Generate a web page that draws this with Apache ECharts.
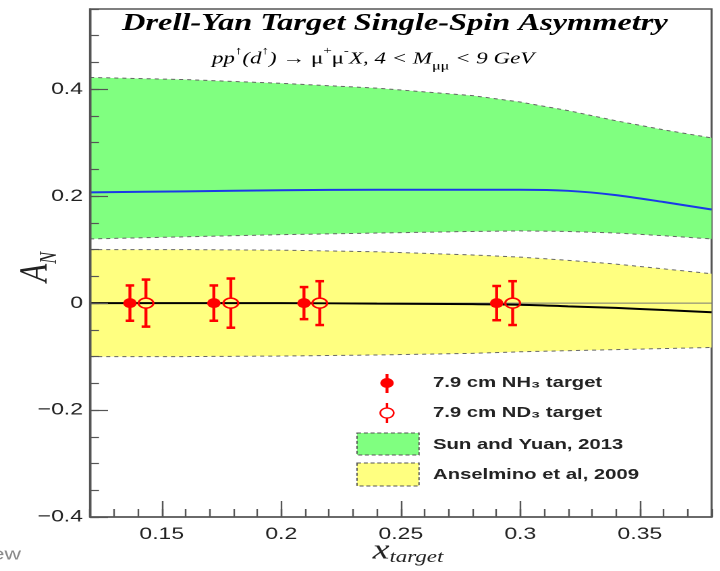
<!DOCTYPE html>
<html><head><meta charset="utf-8">
<script src="https://cdn.jsdelivr.net/npm/echarts@6/dist/echarts.min.js"></script>
<style>html,body{margin:0;padding:0;background:#fff;overflow:hidden}#c{height:571px;transform-origin:0 0}</style>
</head><body><div id="c"></div>
<script>
// ---- data ----
const xs = [0.12, 0.16, 0.20, 0.24, 0.28, 0.30, 0.32, 0.34, 0.36, 0.38];
const sunUpper   = [0.422, 0.418, 0.411, 0.402, 0.388, 0.376, 0.360, 0.341, 0.324, 0.309];
const sunLower   = [0.120, 0.124, 0.128, 0.131, 0.134, 0.135, 0.134, 0.131, 0.126, 0.120];
const sunCentral = [0.207, 0.209, 0.211, 0.212, 0.212, 0.212, 0.210, 0.202, 0.189, 0.175];
const ansUpper   = [0.100, 0.100, 0.099, 0.096, 0.090, 0.086, 0.080, 0.073, 0.064, 0.055];
const ansLower   = [-0.100, -0.100, -0.099, -0.097, -0.094, -0.091, -0.089, -0.087, -0.085, -0.083];
const ansCentral = [0, 0, 0, -0.001, -0.002, -0.003, -0.006, -0.009, -0.013, -0.017];
const nh3X   = [0.1367, 0.1718, 0.2095, 0.2901];
const nh3Y   = [0, 0, 0, 0];
const nh3Err = [0.033, 0.033, 0.030, 0.032];
const nd3X   = [0.1434, 0.1789, 0.2161, 0.2968];
const nd3Y   = [0, 0, 0, 0];
const nd3Err = [0.044, 0.046, 0.041, 0.041];
const xTickValues = [0.15, 0.20, 0.25, 0.30, 0.35];
const xTickLabels = ['0.15', '0.2', '0.25', '0.3', '0.35'];
const yTickValues = [-0.4, -0.2, 0, 0.2, 0.4];
const yTickLabels = ['\u22120.4', '\u22120.2', '0', '0.2', '0.4'];
const legendNames = ['7.9 cm NH\u2083 target', '7.9 cm ND\u2083 target', 'Sun and Yuan, 2013', 'Anselmino et al, 2009'];
const titleText = 'Drell-Yan Target Single-Spin Asymmetry';

// minor tick positions
const xMinor = []; for (let i = 12; i <= 38; i++) xMinor.push(i / 100);
const yMinor = []; for (let i = -8; i <= 11; i++) yMinor.push(i * 0.05);

// the reference picture is stretched horizontally; emulate it
const S = 1.35;
const el = document.getElementById('c');
el.style.width = (720 / S) + 'px';
el.style.transform = 'scaleX(' + S + ')';
const X = px => px / S;

const GREEN = '#80ff80', YELLOW = '#ffff80', RED = '#ff0000', BLUE = '#1a3ae8';
const AX = '#555';
const chart = echarts.init(el, null, { devicePixelRatio: 2 });

function lookup(vals, labels) {
  return v => { const i = vals.findIndex(t => Math.abs(t - v) < 1e-9); return i >= 0 ? labels[i] : ''; };
}
function band(upper, lower, color) {
  return {
    type: 'custom', silent: true, z: 1, data: [[0.25, 0]],
    renderItem(params, api) {
      const up = xs.map((x, i) => api.coord([x, upper[i]]));
      const lo = xs.map((x, i) => api.coord([x, lower[i]]));
      const dash = { stroke: '#666', lineWidth: 1, lineDash: [3, 3], fill: null };
      return { type: 'group', children: [
        { type: 'polygon', shape: { points: up.concat(lo.slice().reverse()) }, style: { fill: color } },
        { type: 'polyline', shape: { points: up }, style: dash },
        { type: 'polyline', shape: { points: lo }, style: dash }
      ]};
    }
  };
}
function errBars(X0, Y, E, gap) {
  return {
    type: 'custom', silent: true, z: 5,
    data: X0.map((x, i) => [x, Y[i], E[i]]),
    renderItem(params, api) {
      const x = api.value(0), y = api.value(1), e = api.value(2);
      const c = api.coord([x, y]), t = api.coord([x, y + e]), b = api.coord([x, y - e]);
      const st = { stroke: RED, lineWidth: 2.2 };
      const cw = 3.2;
      return { type: 'group', children: [
        { type: 'line', shape: { x1: c[0], y1: t[1], x2: c[0], y2: c[1] - gap }, style: st },
        { type: 'line', shape: { x1: c[0], y1: c[1] + gap, x2: c[0], y2: b[1] }, style: st },
        { type: 'line', shape: { x1: c[0] - cw, y1: t[1], x2: c[0] + cw, y2: t[1] }, style: { stroke: RED, lineWidth: 2.5 } },
        { type: 'line', shape: { x1: c[0] - cw, y1: b[1], x2: c[0] + cw, y2: b[1] }, style: { stroke: RED, lineWidth: 2.5 } }
      ]};
    }
  };
}

const serif = '"Liberation Serif", "DejaVu Serif", serif';
const sans = '"Liberation Sans", Arial, sans-serif';

const option = {
  animation: false,
  grid: { left: X(90), right: X(8), top: 9, bottom: 54, show: true, borderColor: AX, borderWidth: 1.5, backgroundColor: 'transparent' },
  xAxis: [
    { type: 'value', min: 0.12, max: 0.38, position: 'bottom', z: 20,
      axisLine: { show: true, onZero: false, lineStyle: { color: AX, width: 1.5 } },
      axisTick: { show: true, inside: true, length: 16, customValues: xTickValues, lineStyle: { color: AX, width: 1.2 } },
      axisLabel: { customValues: xTickValues, formatter: lookup(xTickValues, xTickLabels), margin: 9, fontSize: 17, color: '#222', fontFamily: sans },
      splitLine: { show: false } },
    { type: 'value', min: 0.12, max: 0.38, position: 'bottom', z: 20,
      axisLine: { show: false, onZero: false },
      axisTick: { show: true, inside: true, length: 8, customValues: xMinor, lineStyle: { color: AX, width: 1.2 } },
      axisLabel: { show: false }, splitLine: { show: false } }
  ],
  yAxis: [
    { type: 'value', min: -0.4, max: 0.55, position: 'left', z: 20,
      axisLine: { show: true, onZero: false, lineStyle: { color: AX, width: 1.5 } },
      axisTick: { show: true, inside: true, length: X(18), customValues: yTickValues, lineStyle: { color: AX, width: 1.2 } },
      axisLabel: { customValues: yTickValues, formatter: lookup(yTickValues, yTickLabels), margin: X(7), fontSize: 17, color: '#222', fontFamily: sans },
      splitLine: { show: false } },
    { type: 'value', min: -0.4, max: 0.55, position: 'left', z: 20,
      axisLine: { show: false, onZero: false },
      axisTick: { show: true, inside: true, length: X(9), customValues: yMinor, lineStyle: { color: AX, width: 1.2 } },
      axisLabel: { show: false }, splitLine: { show: false } }
  ],
  series: [
    band(sunUpper, sunLower, GREEN),
    band(ansUpper, ansLower, YELLOW),
    { type: 'line', z: 3, showSymbol: false, smooth: 0.3, silent: true,
      data: xs.map((x, i) => [x, sunCentral[i]]), lineStyle: { color: BLUE, width: 2 } },
    { type: 'line', z: 2, showSymbol: false, silent: true,
      data: [[0.12, 0], [0.38, 0]], lineStyle: { color: '#777', width: 1 } },
    { type: 'line', z: 3, showSymbol: false, smooth: 0.3, silent: true,
      data: xs.map((x, i) => [x, ansCentral[i]]), lineStyle: { color: '#000', width: 2 } },
    errBars(nh3X, nh3Y, nh3Err, 0),
    errBars(nd3X, nd3Y, nd3Err, 5),
    { type: 'scatter', z: 6, silent: true, symbol: 'circle', symbolSize: 10,
      data: nh3X.map((x, i) => [x, nh3Y[i]]), itemStyle: { color: RED, opacity: 1 } },
    { type: 'scatter', z: 6, silent: true, symbol: 'circle', symbolSize: [11, 10],
      data: nd3X.map((x, i) => [x, nd3Y[i]]), itemStyle: { color: 'rgba(0,0,0,0)', borderColor: RED, borderWidth: 1.5, opacity: 1 } }
  ],
  graphic: [
    // title
    { type: 'text', x: X(122), y: 12, z: 10,
      style: { text: titleText, font: 'bold italic 24px ' + serif, fill: '#000' } },
    // subtitle
    { type: 'text', x: X(212), y: 59, z: 10,
      style: {
        text: '{i|pp}{sup|\u2191}{i|(d}{sup|\u2191}{i|) \u2192 }{u|\u03bc}{sup|+}{u|\u03bc}{sup|-}{i|X, 4 < M}{sub|\u03bc\u03bc}{i| < 9 GeV}',
        align: 'left', verticalAlign: 'middle',
        rich: {
          i: { font: 'italic 17px ' + serif, fill: '#000', lineHeight: 27 },
          u: { font: '17px ' + serif, fill: '#000', lineHeight: 27 },
          sup: { font: '11px ' + serif, fill: '#000', lineHeight: 11, verticalAlign: 'top' },
          sub: { font: '12px ' + serif, fill: '#000', lineHeight: 12, verticalAlign: 'bottom' }
        }
      } },
    // y axis name
    { type: 'text', x: X(36), y: 267, rotation: Math.PI / 2, z: 10,
      style: { text: '{a|A}{b|N}', align: 'center', verticalAlign: 'middle',
        rich: { a: { font: 'italic 30px ' + serif, fill: '#222', lineHeight: 38 },
                b: { font: 'italic 18px ' + serif, fill: '#222', lineHeight: 18, verticalAlign: 'bottom' } } } },
    // x axis name
    { type: 'text', x: X(408), y: 551, z: 10,
      style: { text: '{a|x}{b|target}', align: 'center', verticalAlign: 'middle',
        rich: { a: { font: 'italic 28px ' + serif, fill: '#222', lineHeight: 30 },
                b: { font: 'italic 17px ' + serif, fill: '#222', lineHeight: 17, verticalAlign: 'bottom' } } } },
    // legend entry 1
    { type: 'line', shape: { x1: X(387), y1: 374, x2: X(387), y2: 393 }, style: { stroke: RED, lineWidth: 2.2 }, z: 10 },
    { type: 'circle', shape: { cx: X(387), cy: 383, r: 5 }, style: { fill: RED }, z: 10 },
    { type: 'text', x: X(433), y: 383, z: 10, style: { text: legendNames[0], font: 'bold 15px ' + sans, fill: '#222', verticalAlign: 'middle' } },
    // legend entry 2
    { type: 'line', shape: { x1: X(387), y1: 403, x2: X(387), y2: 408 }, style: { stroke: RED, lineWidth: 1.8 }, z: 10 },
    { type: 'line', shape: { x1: X(387), y1: 418, x2: X(387), y2: 423 }, style: { stroke: RED, lineWidth: 1.8 }, z: 10 },
    { type: 'circle', shape: { cx: X(387), cy: 413, r: 5 }, style: { fill: null, stroke: RED, lineWidth: 1.3 }, z: 10 },
    { type: 'text', x: X(433), y: 413, z: 10, style: { text: legendNames[1], font: 'bold 15px ' + sans, fill: '#222', verticalAlign: 'middle' } },
    // legend entry 3
    { type: 'rect', shape: { x: X(357), y: 433, width: X(62), height: 22 }, style: { fill: GREEN, stroke: '#555', lineWidth: 1, lineDash: [3, 2] }, z: 10 },
    { type: 'text', x: X(433), y: 445, z: 10, style: { text: legendNames[2], font: 'bold 15px ' + sans, fill: '#222', verticalAlign: 'middle' } },
    // legend entry 4
    { type: 'rect', shape: { x: X(357), y: 463, width: X(62), height: 23 }, style: { fill: YELLOW, stroke: '#555', lineWidth: 1, lineDash: [3, 2] }, z: 10 },
    { type: 'text', x: X(433), y: 475, z: 10, style: { text: legendNames[3], font: 'bold 15px ' + sans, fill: '#222', verticalAlign: 'middle' } },
    // stray text at bottom-left
    { type: 'text', x: X(21), y: 555, z: 10, style: { text: 'ew', font: '17px ' + sans, fill: '#888', align: 'right', verticalAlign: 'middle' } }
  ]
};
chart.setOption(option);
</script>
</body></html>
